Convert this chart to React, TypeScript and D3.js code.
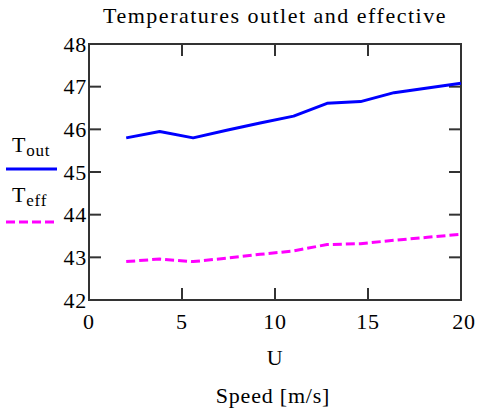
import React from "react";
import * as d3 from "d3";

const speeds = [2, 3.8, 5.6, 7.4, 9.2, 11, 12.8, 14.6, 16.4, 18.2, 20];
const tOut = [45.8, 45.95, 45.8, 45.98, 46.15, 46.31, 46.61, 46.65, 46.86, 46.97, 47.08];
const tEff = [42.9, 42.96, 42.9, 42.98, 43.07, 43.15, 43.3, 43.32, 43.4, 43.47, 43.54];
const xTicks = [0, 5, 10, 15, 20];
const yTicks = [42, 43, 44, 45, 46, 47, 48];

const W = 480, H = 416;
const L = 89, R = 461, T = 44, B = 300;
const FONT = "Liberation Serif, Times New Roman, Times, serif";

export default function App() {
  const x = d3.scaleLinear().domain([0, 20]).range([L, R]);
  const y = d3.scaleLinear().domain([42, 48]).range([B, T]);
  const line = d3.line<number>().x((_, i) => x(speeds[i])).y((d) => y(d));
  const tick = 12;
  const ax = "#333";
  const ts = { fontFamily: FONT, fontSize: 22, letterSpacing: 0.8 } as React.CSSProperties;
  return (
    <svg width={W} height={H} style={{ position: "absolute", left: 0, top: 0, background: "#fff", fontFamily: FONT }}>
      <rect x={0} y={0} width={W} height={H} fill="#fff" />
      <text x={275} y={23} style={{ ...ts, letterSpacing: 1.5 }} textAnchor="middle" fill="#000">Temperatures outlet and effective</text>
      <rect x={L} y={T} width={R - L} height={B - T} fill="none" stroke={ax} strokeWidth={2} />
      {xTicks.slice(1, -1).map((t) => (
        <g key={"x" + t}>
          <line x1={x(t)} x2={x(t)} y1={B} y2={B - tick} stroke={ax} strokeWidth={2} />
          <line x1={x(t)} x2={x(t)} y1={T} y2={T + tick} stroke={ax} strokeWidth={2} />
        </g>
      ))}
      {yTicks.slice(1, -1).map((t) => (
        <g key={"y" + t}>
          <line x1={L} x2={L + tick} y1={y(t)} y2={y(t)} stroke={ax} strokeWidth={2} />
          <line x1={R} x2={R - tick} y1={y(t)} y2={y(t)} stroke={ax} strokeWidth={2} />
        </g>
      ))}
      {xTicks.map((t) => (
        <text key={"xl" + t} x={x(t) + (t === 20 ? 3 : 0)} y={329} style={ts} textAnchor="middle" fill="#000">{t}</text>
      ))}
      {yTicks.map((t) => (
        <text key={"yl" + t} x={87} y={y(t) + 7.5} style={ts} textAnchor="end" fill="#000">{t}</text>
      ))}
      <path d={line(tOut) || ""} fill="none" stroke="#0000ff" strokeWidth={3} strokeLinejoin="round" />
      <path d={line(tEff) || ""} fill="none" stroke="#ff00ff" strokeWidth={3} strokeDasharray="9,4" />
      <text x={275} y={365} style={ts} textAnchor="middle" fill="#000">U</text>
      <text x={273} y={403} style={ts} textAnchor="middle" fill="#000">Speed [m/s]</text>
      <text x={12} y={152} style={ts} fill="#000">T<tspan style={{ fontSize: 17 }} dy={4}>out</tspan></text>
      <line x1={6} x2={57} y1={169} y2={169} stroke="#0000ff" strokeWidth={3} />
      <text x={12} y={202} style={ts} fill="#000">T<tspan style={{ fontSize: 17 }} dy={4}>eff</tspan></text>
      <line x1={6} x2={57} y1={222} y2={222} stroke="#ff00ff" strokeWidth={3} strokeDasharray="9,4" />
    </svg>
  );
}
